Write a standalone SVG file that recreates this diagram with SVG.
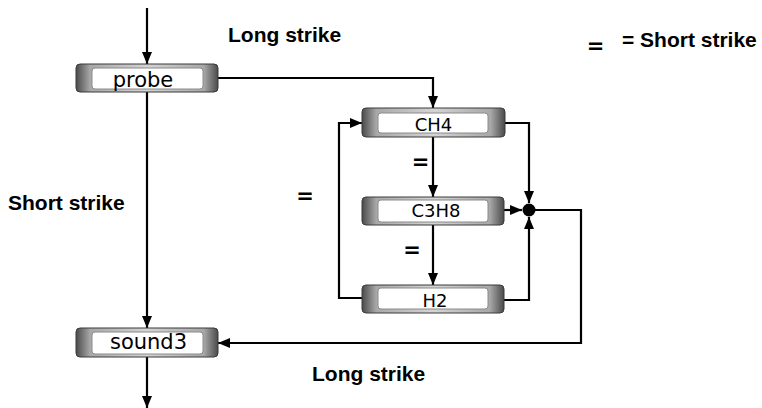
<svg xmlns="http://www.w3.org/2000/svg" width="762" height="408" viewBox="0 0 762 408">
<defs>
<linearGradient id="g" x1="0" y1="0" x2="1" y2="0">
<stop offset="0" stop-color="#4a4a4a"/>
<stop offset="0.1" stop-color="#a8a8a8"/>
<stop offset="0.5" stop-color="#d4d4d4"/>
<stop offset="0.9" stop-color="#a8a8a8"/>
<stop offset="1" stop-color="#4a4a4a"/>
</linearGradient>
<marker id="ah" markerUnits="userSpaceOnUse" markerWidth="12" markerHeight="12" viewBox="0 0 12 12" refX="12" refY="6" orient="auto">
<path d="M0,1 L12,6 L0,11 Z" fill="#000"/>
</marker>
</defs>
<style>
.outer{fill:url(#g);stroke:#3a3a3a;stroke-width:1}
.inner{fill:#fff;stroke:#8a8a8a;stroke-width:1}
.nt{font-family:"DejaVu Sans",sans-serif;fill:#000;text-anchor:middle}
.lbl{font-family:"Liberation Sans",Arial,sans-serif;font-weight:bold;font-size:21px;fill:#000}
.eq{font-family:"DejaVu Sans",sans-serif;font-weight:bold;font-size:21px;fill:#000;text-anchor:middle}
.ca{fill:none;stroke:#000;stroke-width:2.2;marker-end:url(#ah)}
</style>

<g id="connectors">
<path class="ca" d="M147,8 V64"/>
<path class="ca" d="M147,92 V328"/>
<path class="ca" d="M147,357 V408"/>
<path class="ca" d="M218,78 H433 V108"/>
<path class="ca" d="M433,137 V197"/>
<path class="ca" d="M433,225 V285"/>
<path class="ca" d="M362,298 H339 V123 H362"/>
<path class="ca" d="M505,123 H529 V203"/>
<path class="ca" d="M504,300 H529 V217"/>
<path class="ca" d="M504,210 H522"/>
<path class="ca" d="M529,210 H581 V343 H218"/>
<circle cx="529" cy="210" r="6.5" fill="#000"/>
</g>

<g id="probe">
<rect class="outer" x="76" y="64" width="142" height="28" rx="4"/>
<rect class="inner" x="92" y="68" width="111" height="21" rx="3"/>
<text class="nt" x="143" y="87" font-size="21">probe</text>
</g>
<g id="CH4">
<rect class="outer" x="362" y="108" width="143" height="29" rx="4"/>
<rect class="inner" x="378" y="113" width="110" height="20" rx="3"/>
<text class="nt" x="433.5" y="131" font-size="18">CH4</text>
</g>
<g id="C3H8">
<rect class="outer" x="362" y="197" width="142" height="28" rx="4"/>
<rect class="inner" x="378" y="200" width="110" height="22" rx="3"/>
<text class="nt" x="436" y="216.5" font-size="18">C3H8</text>
</g>
<g id="H2">
<rect class="outer" x="362" y="285" width="142" height="28" rx="4"/>
<rect class="inner" x="378" y="288" width="110" height="21" rx="3"/>
<text class="nt" x="435" y="307" font-size="18">H2</text>
</g>
<g id="sound3">
<rect class="outer" x="76" y="328" width="142" height="29" rx="4"/>
<rect class="inner" x="92" y="332" width="111" height="22" rx="3"/>
<text class="nt" x="148.5" y="349" font-size="21">sound3</text>
</g>

<g id="labels">
<text class="lbl" x="228" y="42">Long strike</text>
<text class="lbl" x="8" y="210">Short strike</text>
<text class="lbl" x="312" y="381">Long strike</text>
<text class="lbl" x="622" y="47">= Short strike</text>
<text class="eq" x="595.5" y="53">=</text>
<text class="eq" x="305" y="203">=</text>
<text class="eq" x="420.5" y="168.5">=</text>
<text class="eq" x="412" y="256.5">=</text>
</g>
</svg>
